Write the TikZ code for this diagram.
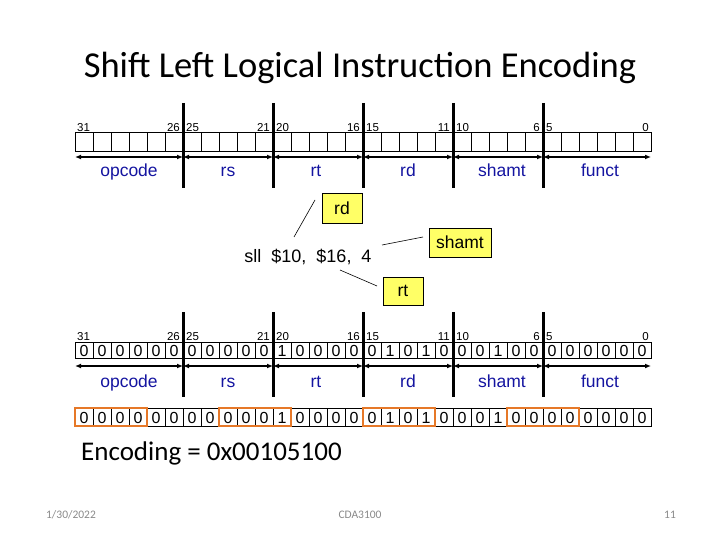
\documentclass[tikz,border=0pt]{standalone}
\usepackage{fontspec}
\setmainfont{Carlito}
\newfontfamily\tah{Liberation Sans}
\usetikzlibrary{arrows.meta}
\definecolor{fieldblue}{RGB}{20,20,160}
\definecolor{boxyellow}{RGB}{255,255,102}
\definecolor{hexorange}{RGB}{230,120,40}
\definecolor{footgray}{RGB}{137,137,137}
\tikzset{
  bitnum/.style={font=\tah\fontsize{11.5}{13}\selectfont, inner sep=0pt, anchor=south},
  fieldlbl/.style={font=\tah\fontsize{17.5}{21}\selectfont, text=fieldblue, inner sep=0pt, anchor=base},
  digit/.style={font=\tah\fontsize{16}{19}\selectfont, inner sep=0pt, anchor=base},
  cellbox/.style={draw=black, line width=0.6pt},
  divider/.style={line width=3pt, black},
  span/.style={line width=1.4pt, {Latex[length=6pt,width=5pt]}-{Latex[length=6pt,width=5pt]}},
  callout/.style={draw=black, fill=boxyellow, line width=0.6pt, font=\tah\fontsize{17.5}{21}\selectfont, inner sep=0pt},
  leader/.style={line width=0.6pt, black},
  nibble/.style={draw=hexorange, line width=2.6pt},
  foot/.style={font=\fontsize{11.5}{14}\selectfont, text=footgray, inner sep=0pt}
}
\begin{document}
\begin{tikzpicture}[x=1pt,y=-1pt]
\useasboundingbox (0,0) rectangle (720,540);
\node[font=\fontsize{36.5}{44}\selectfont, inner sep=0pt] (title) at (360,68) {Shift Left Logical Instruction Encoding};

% ---------- top register ----------
\foreach \i in {0,...,31} \draw[cellbox] ({75+\i*18},132) rectangle ++(18,19);
\foreach \x/\t/\a [count=\k] in {77/31/west,180/26/east,186/25/west,270/21/east,276/20/west,360/16/east,366/15/west,450/11/east,456/10/west,540/6/east,546/5/west,649/0/east}
  \node[bitnum, anchor=south \a] (ta\k) at (\x,131.5) {\t};
\foreach \x [count=\k] in {75,183,273,363,453,543,651} \coordinate (tb\k) at (\x,157);
\foreach \k [evaluate=\k as \n using int(\k+1)] in {1,...,6} \draw[span] (tb\k) -- (tb\n);
\foreach \x [count=\k] in {183,273,363,453,543} \draw[divider] (\x,103) -- (\x,188);
\node[fieldlbl] (topcode) at (129,177) {opcode};
\node[fieldlbl] (trs) at (228,177) {rs};
\node[fieldlbl] (trt) at (316,177) {rt};
\node[fieldlbl] (trd) at (408,177) {rd};
\node[fieldlbl] (tsh) at (502,177) {shamt};
\node[fieldlbl] (tfn) at (600,177) {funct};

% ---------- instruction and callouts ----------
\node[font=\tah\fontsize{18}{21}\selectfont, inner sep=0pt] (sll) at (308,257) {sll\ \ \$10,\ \ \$16,\ \ 4};
\node[callout, minimum width=40pt, minimum height=30pt] (rdbox) at (342,208) {rd};
\node[callout, minimum width=62pt, minimum height=29pt] (shbox) at (460,242.5) {shamt};
\node[callout, minimum width=40pt, minimum height=28pt] (rtbox) at (403,291) {rt};
\coordinate (rdA) at (294,237); \coordinate (rdB) at (315,200);
\coordinate (shA) at (382,245); \coordinate (shB) at (423,237);
\coordinate (rtA) at (340,270); \coordinate (rtB) at (377,286);
\draw[leader] (rdA) -- (rdB);
\draw[leader] (shA) -- (shB);
\draw[leader] (rtA) -- (rtB);

% ---------- bottom register ----------
\def\bits{0,0,0,0,0,0,0,0,0,0,0,1,0,0,0,0,0,1,0,1,0,0,0,1,0,0,0,0,0,0,0,0}
\foreach \b [count=\i from 0] in \bits {
  \draw[cellbox] ({75+\i*18},342) rectangle ++(18,16);
  \node[digit] (bd\i) at ({84+\i*18},356.5) {\b};
}
\foreach \x/\t/\a [count=\k] in {77/31/west,180/26/east,186/25/west,270/21/east,276/20/west,360/16/east,366/15/west,450/11/east,456/10/west,540/6/east,546/5/west,649/0/east}
  \node[bitnum, anchor=south \a] (ba\k) at (\x,341) {\t};
\foreach \x [count=\k] in {75,183,273,363,453,543,651} \coordinate (bb\k) at (\x,366);
\foreach \k [evaluate=\k as \n using int(\k+1)] in {1,...,6} \draw[span] (bb\k) -- (bb\n);
\foreach \x [count=\k] in {183,273,363,453,543} \draw[divider] (\x,312) -- (\x,397);
\node[fieldlbl] (bopcode) at (129,387) {opcode};
\node[fieldlbl] (brs) at (228,387) {rs};
\node[fieldlbl] (brt) at (316,387) {rt};
\node[fieldlbl] (brd) at (408,387) {rd};
\node[fieldlbl] (bsh) at (502,387) {shamt};
\node[fieldlbl] (bfn) at (600,387) {funct};

% ---------- nibble row ----------
\foreach \b [count=\i from 0] in \bits {
  \draw[cellbox] ({75+\i*18},408) rectangle ++(18,18);
  \node[digit] (nd\i) at ({84+\i*18},423.5) {\b};
}
\foreach \k in {0,2,4,6} \draw[nibble] ({75+\k*72},408) rectangle ++(72,18);

\node[font=\fontsize{27}{32}\selectfont, inner sep=0pt, anchor=west] (enc) at (81,453) {Encoding = 0x00105100};

% ---------- footer ----------
\node[foot] (date) at (71,515) {1/30/2022};
\node[foot] (course) at (360,515) {CDA3100};
\node[foot] (page) at (670,515) {11};
\end{tikzpicture}
\end{document}
